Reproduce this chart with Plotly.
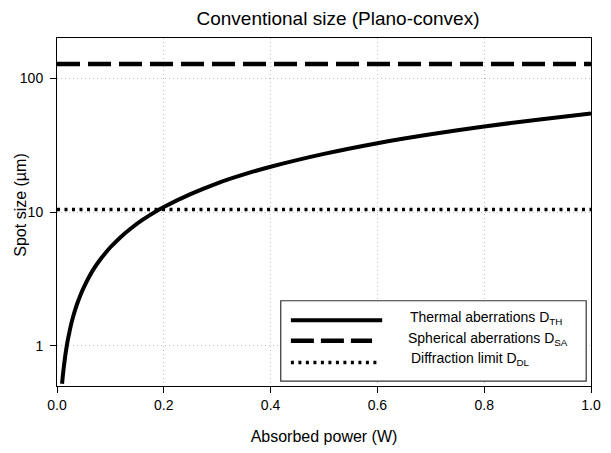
import plotly.graph_objects as go

# ---- data ----
power = [0.0095, 0.011, 0.0125, 0.014, 0.016, 0.018, 0.02, 0.023, 0.026, 0.03,
         0.035, 0.04, 0.045, 0.05, 0.06, 0.07, 0.08, 0.09, 0.1, 0.12, 0.14,
         0.16, 0.18, 0.2, 0.25, 0.3, 0.35, 0.4, 0.5, 0.6, 0.7, 0.8, 0.9, 1.0]
d_th = [0.52, 0.60, 0.68, 0.76, 0.87, 0.98, 1.09, 1.25, 1.42, 1.64,
        1.91, 2.18, 2.45, 2.72, 3.27, 3.82, 4.36, 4.9, 5.45, 6.54, 7.63,
        8.72, 9.81, 10.9, 13.6, 16.4, 19.1, 21.8, 27.2, 32.7, 38.1, 43.6, 49.0, 54.5]
power_range = [0.0, 1.0]
d_sa = [128, 128]
d_dl = [10.45, 10.45]

x_ticks = [0.0, 0.2, 0.4, 0.6, 0.8, 1.0]
x_ticklabels = ["0.0", "0.2", "0.4", "0.6", "0.8", "1.0"]
y_ticks = [1, 10, 100]
y_ticklabels = ["1", "10", "100"]

legend_labels = ["Thermal aberrations D<sub>TH</sub>",
                 "Spherical aberrations D<sub>SA</sub>",
                 "Diffraction limit D<sub>DL</sub>"]

FONT = "Liberation Sans, Arial, sans-serif"

fig = go.Figure()
fig.add_trace(go.Scatter(x=power, y=d_th, mode="lines", name=legend_labels[0],
                         line=dict(color="black", width=4, shape="spline", smoothing=0.6),
                         showlegend=False))
fig.add_trace(go.Scatter(x=power_range, y=d_sa, mode="lines", name=legend_labels[1],
                         line=dict(color="black", width=4.5, dash="23px,8px"),
                         showlegend=False))
fig.add_trace(go.Scatter(x=power_range, y=d_dl, mode="lines", name=legend_labels[2],
                         line=dict(color="black", width=3.5, dash="3px,4.5px"),
                         showlegend=False))

# ---- custom legend (box, samples, labels) in paper coordinates ----
shapes = [dict(type="rect", xref="paper", yref="paper", x0=0.419, x1=0.991,
               y0=0.014, y1=0.245, line=dict(color="#333", width=1.2),
               fillcolor="white", layer="above")]
samples = [
    (0.609, 0.189, dict(color="black", width=4)),
    (0.590, 0.130, dict(color="black", width=4.5, dash="23px,7px")),
    (0.600, 0.0674, dict(color="black", width=3.5, dash="3px,4.5px")),
]
for x1, yy, ln in samples:
    shapes.append(dict(type="line", xref="paper", yref="paper", x0=0.438, x1=x1,
                       y0=yy, y1=yy, line=ln, layer="above"))

annotations = []
for lab, xx, yy in zip(legend_labels, [0.657, 0.653, 0.659], [0.194, 0.136, 0.0767]):
    annotations.append(dict(xref="paper", yref="paper", x=xx, y=yy, text=lab,
                            showarrow=False, xanchor="left", yanchor="middle",
                            font=dict(family=FONT, size=14, color="black")))
annotations.append(dict(xref="paper", yref="paper", x=(19 - 57) / 543.7, y=0.52,
                        text="Spot size (µm)", textangle=-90, showarrow=False,
                        xanchor="center", yanchor="middle",
                        font=dict(family=FONT, size=16, color="black")))

fig.update_layout(
    width=611, height=453,
    margin=dict(l=57, r=10, t=38, b=59),
    paper_bgcolor="white", plot_bgcolor="white",
    font=dict(family=FONT, size=14, color="black"),
    title=dict(text="Conventional size (Plano-convex)", x=338 / 611, xref="container",
               xanchor="center", y=1 - 18.5 / 453, yref="container", yanchor="middle",
               font=dict(family=FONT, size=19, color="black")),
    shapes=shapes, annotations=annotations,
    showlegend=False,
)
fig.update_xaxes(range=[0, 1], tickvals=x_ticks, ticktext=x_ticklabels,
                 ticks="outside", ticklen=6, tickwidth=1, tickcolor="black",
                 showline=True, linecolor="black", linewidth=1, mirror=True,
                 showgrid=True, gridcolor="#bdbdbd", gridwidth=1, griddash="1px,3px",
                 zeroline=False, tickfont=dict(family=FONT, size=14, color="black"),
                 title=dict(text="Absorbed power (W)", standoff=19,
                            font=dict(family=FONT, size=16, color="black")))
fig.update_yaxes(type="log", range=[-0.30103, 2.30103], tickvals=y_ticks,
                 ticktext=y_ticklabels, ticks="outside", ticklen=6, tickwidth=1,
                 tickcolor="black", showline=True, linecolor="black", linewidth=1,
                 mirror=True, showgrid=True, gridcolor="#bdbdbd", gridwidth=1,
                 griddash="1px,3px", zeroline=False, ticklabelstandoff=4,
                 tickfont=dict(family=FONT, size=14, color="black"))

fig.write_html("out.html")
